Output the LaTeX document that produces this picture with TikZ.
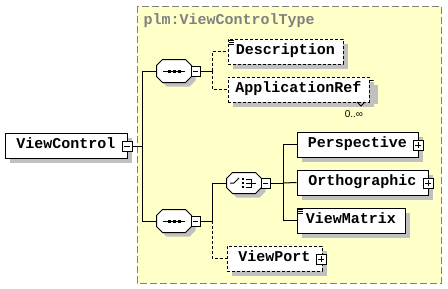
\documentclass[tikz,border=0pt]{standalone}
\usepackage{fontspec}
\setmonofont{Liberation Mono}
\newfontfamily\occfont{Liberation Sans}
\usetikzlibrary{shadows,calc}
\definecolor{yel}{HTML}{FFFFC8}
\definecolor{shad}{HTML}{C0C0C0}
\definecolor{framec}{HTML}{808080}
\newcommand\octpathx[3]{([xshift=#2+6pt,yshift=#3]#1.north west) -- ([xshift=#2-6pt,yshift=#3]#1.north east) -- ([xshift=#2,yshift=#3-6pt]#1.north east) -- ([xshift=#2,yshift=#3+6pt]#1.south east) -- ([xshift=#2-6pt,yshift=#3]#1.south east) -- ([xshift=#2+6pt,yshift=#3]#1.south west) -- ([xshift=#2,yshift=#3+6pt]#1.south west) -- ([xshift=#2,yshift=#3-6pt]#1.north west) -- cycle}
\begin{document}
\begin{tikzpicture}[x=1pt,y=-1pt,line width=1pt,
  elem/.style={draw, fill=white, minimum height=25pt, inner sep=0pt,
    text height=8.5pt, text depth=3pt,
    font=\fontsize{15}{15}\selectfont\ttfamily\bfseries,
    drop shadow={shadow xshift=5pt, shadow yshift=-5pt, fill=shad, opacity=1}},
  optelem/.style={elem, dash pattern=on 3pt off 2pt},
  octn/.style={minimum width=34pt, minimum height=22pt, inner sep=0pt, draw=none},
  minusbox/.style={draw, fill=white, minimum width=9pt, minimum height=10pt, inner sep=0pt,
    path picture={\draw[line width=0.8pt] ([xshift=2pt]path picture bounding box.west) -- ([xshift=-2pt]path picture bounding box.east);}},
  plusbox/.style={minusbox,
    path picture={\draw[line width=0.8pt] ([xshift=2pt]path picture bounding box.west) -- ([xshift=-2pt]path picture bounding box.east)
      ([yshift=-2pt]path picture bounding box.north) -- ([yshift=2pt]path picture bounding box.south);}},
  conn/.style={draw, line width=1pt},
  optconn/.style={conn, dash pattern=on 3pt off 2pt},
  docicon/.style={line width=0.8pt}
]
\useasboundingbox (0,0) rectangle (448,289);
% type region
\draw[fill=yel, draw=framec, dash pattern=on 7pt off 3pt] (137,6) rectangle (441,283);
\node[anchor=west, inner sep=0pt, text=framec, font=\fontsize{15}{15}\selectfont\ttfamily\bfseries] (title) at (143,21) {plm:ViewControlType};

% root element
\node[elem, minimum width=122pt] (vc) at (66,145.5) {ViewControl\hspace{6pt}};
\node[minusbox, minimum width=10pt] (vcm) at (127,146) {};

% sequence 1
\node[octn] (seq1) at (174,71) {};
\fill[shad] \octpathx{seq1}{4pt}{-4pt};
\draw[fill=white] \octpathx{seq1}{0pt}{0pt};
\draw ([xshift=-11pt]seq1.center) -- ([xshift=11pt]seq1.center);
\foreach \dx in {-5,0,5} \fill ([xshift=\dx pt-1.5pt,yshift=1.5pt]seq1.center) rectangle ++(3,3);
\node[minusbox] (s1m) at (195.5,71) {};

% sequence 2
\node[octn] (seq2) at (174,221) {};
\fill[shad] \octpathx{seq2}{4pt}{-4pt};
\draw[fill=white] \octpathx{seq2}{0pt}{0pt};
\draw ([xshift=-11pt]seq2.center) -- ([xshift=11pt]seq2.center);
\foreach \dx in {-5,0,5} \fill ([xshift=\dx pt-1.5pt,yshift=1.5pt]seq2.center) rectangle ++(3,3);
\node[minusbox] (s2m) at (195.5,221) {};

% choice
\node[octn, minimum height=20pt] (ch) at (244,183) {};
\fill[shad] \octpathx{ch}{4pt}{-4pt};
\draw[fill=white] \octpathx{ch}{0pt}{0pt};
\draw ([xshift=-14pt]ch.center) -- ([xshift=-10pt]ch.center) -- ([xshift=-5pt,yshift=5pt]ch.center);
\foreach \dy in {-4,0,4} \fill ([xshift=-2.5pt,yshift=\dy pt+1.25pt]ch.center) rectangle ++(2.5,2.5);
\draw ([xshift=2pt,yshift=4pt]ch.center) -- ([xshift=7pt,yshift=4pt]ch.center) -- ([xshift=7pt,yshift=-4pt]ch.center) -- ([xshift=2pt,yshift=-4pt]ch.center);
\draw ([xshift=2pt]ch.center) -- ([xshift=12pt]ch.center);
\node[minusbox] (chm) at (265.5,183) {};

% children of sequence 1
\node[optelem, minimum width=115pt] (desc) at (285.5,51.5) {Description};
\foreach \k in {2,4,6} \draw[docicon] ([xshift=1.5pt,yshift=-\k pt]desc.north west) -- ++(5,0);

\node[optelem, minimum width=141pt, minimum height=19pt] (apback) at (302.5,89.5) {};
\node[optelem, minimum width=141pt] (appref) at (298.5,89.5) {ApplicationRef};
\draw[line width=0.8pt] (357,102) -- (361,106) -- (365,102);
\node[inner sep=0pt, font=\occfont\fontsize{10}{11}\selectfont] (occ) at (354,114) {0..∞};

% children of choice
\node[elem, minimum width=121pt] (persp) at (357.5,144.5) {Perspective\hspace{5pt}};
\node[plusbox, minimum width=10pt] (perspp) at (418,145) {};
\node[elem, minimum width=131pt] (ortho) at (362.5,182.5) {Orthographic\hspace{5pt}};
\node[plusbox, minimum width=10pt] (orthop) at (428,183) {};
\node[elem, minimum width=108pt] (vmat) at (351,220.5) {ViewMatrix};
\foreach \k in {2,4,6} \draw[docicon] ([xshift=1.5pt,yshift=-\k pt]vmat.north west) -- ++(5,0);

% viewport
\node[optelem, minimum width=95pt] (vport) at (274.5,258.5) {ViewPort\hspace{4pt}};
\node[plusbox, minimum width=10pt] (vportp) at (321,259) {};

% connectors
\coordinate (j0) at (142,146);
\coordinate (j1) at (212,71);
\coordinate (j2) at (212,221);
\coordinate (j3) at (283,183);
\draw[conn] (vcm.east) -- (j0) |- (seq1.west);
\draw[conn] (j0) |- (seq2.west);
\draw[conn] (s1m.east) -- (j1);
\draw[optconn] (j1) |- (desc.west);
\draw[optconn] (j1) |- (appref.west);
\draw[conn] (s2m.east) -- (j2) |- (ch.west);
\draw[optconn] (j2) |- (vport.west);
\draw[conn] (chm.east) -- (j3) |- (persp.west);
\draw[conn] (j3) -- (ortho.west);
\draw[conn] (j3) |- (vmat.west);
\end{tikzpicture}
\end{document}
